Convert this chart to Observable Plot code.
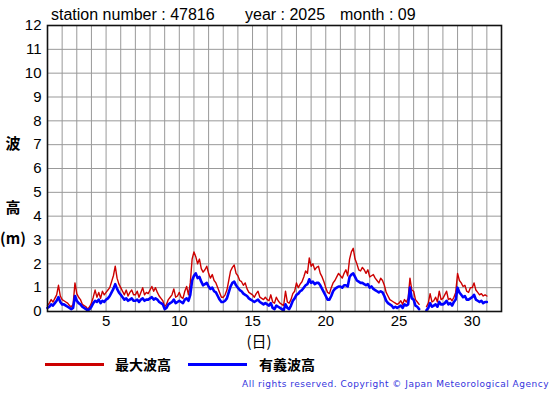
<!DOCTYPE html>
<html><head><meta charset="utf-8">
<script src="https://cdn.jsdelivr.net/npm/d3@7"></script>
<script src="https://cdn.jsdelivr.net/npm/@observablehq/plot@0.6"></script>
<style>
body{margin:0;background:#fff;}
#wrap{position:relative;width:555px;height:395px;overflow:hidden;font-family:"Liberation Sans",Arial,sans-serif;background:#fff;}
#wrap svg{position:absolute;left:0;top:0;}
.abs{position:absolute;white-space:pre;line-height:1;color:#000;}
.jp{font-family:"Noto Sans CJK JP",sans-serif;font-weight:bold;}
</style></head><body><div id="wrap"></div>
<script>
// ---- text ----
const titleParts = ["station number : 47816", "year : 2025", "month : 09"];
const yLabelChars = ["波", "高", "(m)"];
const xLabel = "(日)";
const seriesNames = ["最大波高", "有義波高"];
const seriesColors = ["#cc0000", "#0000ff"];
const copyright = "All rights reserved. Copyright © Japan Meteorological Agency";

// ---- axes ----
const dayTicks = [5, 10, 15, 20, 25, 30];
const waveTicks = [0,1,2,3,4,5,6,7,8,9,10,11,12];
const dayGrid = [2,3,4,5,6,7,8,9,10,11,12,13,14,15,16,17,18,19,20,21,22,23,24,25,26,27,28,29,30,31];
const waveGrid = [1,2,3,4,5,6,7,8,9,10,11];
const stepsPerDay = 8; // 3-hourly readings, starting Sep 1 00h

// ---- data (m), 8 values per day, day 1..30, plus final point ----
const maxWave = [
 0.25,0.35,0.5,0.4,0.55,0.7,1.1,0.65,
 0.5,0.45,0.4,0.35,0.25,0.2,0.3,1.2,
 0.75,0.6,0.5,0.3,0.25,0.2,0.1,0.2,
 0.35,0.6,0.9,0.6,0.8,0.55,0.85,0.7,
 0.8,0.9,1.0,1.25,1.5,1.9,1.4,1.15,
 1.0,0.85,0.7,0.9,0.65,0.8,0.9,0.7,
 0.7,0.85,0.6,0.8,1.0,0.7,0.8,0.75,
 0.9,1.05,0.85,1.0,0.8,0.65,0.55,0.45,
 0.2,0.3,0.5,0.6,0.7,0.95,0.6,0.65,
 0.8,0.6,0.55,0.85,1.05,0.7,1.2,2.2,
 2.5,2.3,2.0,2.2,1.8,1.65,1.75,1.9,
 1.6,1.4,1.55,1.3,1.2,1.0,0.8,0.6,
 0.6,0.7,0.9,1.3,1.7,1.85,1.95,1.6,
 1.5,1.3,1.25,1.1,1.2,0.95,0.8,0.75,
 0.7,0.6,0.75,0.85,0.6,0.55,0.5,0.6,
 0.5,0.45,0.7,0.4,0.35,0.6,0.45,0.35,
 0.3,0.25,0.85,0.4,0.35,0.5,0.75,0.85,
 1.2,1.0,1.15,1.25,1.45,1.7,1.6,2.25,
 1.9,2.0,1.75,1.85,1.9,1.6,1.45,1.25,
 1.0,0.8,0.75,1.0,1.2,1.3,1.45,1.6,
 1.5,1.4,1.6,1.75,1.5,2.2,2.5,2.65,
 2.2,2.0,1.75,1.7,1.85,1.75,1.6,1.75,
 1.45,1.5,1.55,1.4,1.3,1.2,1.4,1.3,
 1.1,0.8,0.65,0.5,0.45,0.4,0.35,0.3,
 0.35,0.45,0.3,0.5,0.4,0.55,1.4,0.9,
 0.85,0.5,0.4,0.3,null,null,null,0.2,
 0.35,0.75,0.4,0.45,0.6,0.4,0.85,0.5,
 0.55,0.7,0.85,0.5,0.55,0.45,0.6,0.8,
 1.6,1.3,1.2,1.05,1.1,0.85,0.8,1.0,
 1.0,1.2,0.9,0.8,0.7,0.75,0.65,0.7,
 0.65
];
const sigWave = [
 0.15,0.2,0.3,0.25,0.35,0.45,0.6,0.4,
 0.3,0.3,0.25,0.2,0.15,0.1,0.15,0.65,
 0.45,0.35,0.3,0.2,0.15,0.1,0.05,0.1,
 0.2,0.35,0.45,0.4,0.5,0.35,0.45,0.4,
 0.5,0.55,0.65,0.8,0.95,1.15,0.95,0.8,
 0.7,0.6,0.5,0.55,0.45,0.5,0.55,0.45,
 0.45,0.5,0.4,0.5,0.55,0.45,0.5,0.5,
 0.55,0.6,0.5,0.55,0.5,0.4,0.35,0.3,
 0.1,0.15,0.3,0.35,0.4,0.5,0.35,0.4,
 0.45,0.4,0.35,0.5,0.55,0.45,0.7,1.3,
 1.5,1.6,1.4,1.45,1.25,1.1,1.15,1.2,
 1.05,0.95,1.0,0.85,0.8,0.65,0.5,0.4,
 0.4,0.45,0.55,0.8,1.05,1.2,1.25,1.1,
 1.0,0.9,0.85,0.75,0.7,0.65,0.55,0.5,
 0.45,0.4,0.45,0.5,0.4,0.35,0.3,0.35,
 0.3,0.25,0.35,0.15,0.1,0.25,0.2,0.15,
 0.1,0.05,0.3,0.15,0.1,0.25,0.45,0.55,
 0.7,0.75,0.85,0.9,1.0,1.1,1.15,1.35,
 1.2,1.25,1.15,1.2,1.2,1.1,0.95,0.8,
 0.65,0.5,0.5,0.65,0.85,0.95,1.0,1.05,
 1.05,1.0,1.1,1.1,1.05,1.45,1.55,1.6,
 1.45,1.3,1.25,1.2,1.2,1.15,1.1,1.15,
 1.0,1.05,0.95,0.9,0.85,0.8,0.85,0.8,
 0.65,0.45,0.35,0.3,0.25,0.15,0.2,0.15,
 0.2,0.25,0.15,0.3,0.25,0.3,1.0,0.55,
 0.5,0.25,0.2,0.1,null,null,null,0.05,
 0.15,0.35,0.2,0.25,0.3,0.2,0.4,0.3,
 0.3,0.35,0.45,0.3,0.35,0.25,0.4,0.5,
 1.0,0.8,0.7,0.6,0.65,0.5,0.5,0.55,
 0.6,0.7,0.5,0.45,0.4,0.45,0.35,0.4,
 0.4
];

const toRows = arr => arr.map((v, i) => ({t: 1 + i / stepsPerDay, v}));
const maxRows = toRows(maxWave);
const sigRows = toRows(sigWave);

const chart = Plot.plot({
  width: 555, height: 395,
  marginTop: 25, marginBottom: 84, marginLeft: 47, marginRight: 54,
  x: {domain: [1, 32]},
  y: {domain: [0, 12]},
  style: {fontFamily: "'Liberation Sans', Arial, sans-serif", fontSize: "15px", color: "#000", background: "transparent", overflow: "visible"},
  marks: [
    Plot.ruleX(dayGrid, {stroke: "#999", strokeWidth: 1}),
    Plot.ruleY(waveGrid, {stroke: "#999", strokeWidth: 1}),
    Plot.lineY(maxRows, {x: "t", y: "v", stroke: seriesColors[0], strokeWidth: 1.4}),
    Plot.lineY(sigRows, {x: "t", y: "v", stroke: seriesColors[1], strokeWidth: 2.6}),
    Plot.frame({stroke: "#111", strokeWidth: 1.6}),
    Plot.axisX({ticks: dayTicks, tickSize: 0, tickPadding: 4, label: null}),
    Plot.axisY({ticks: waveTicks, tickSize: 0, tickPadding: 6, label: null})
  ]
});

const wrap = document.getElementById("wrap");
wrap.appendChild(chart);

function addText(txt, css, cls) {
  const d = document.createElement("div");
  d.className = "abs" + (cls ? " " + cls : "");
  d.textContent = txt;
  Object.assign(d.style, css);
  wrap.appendChild(d);
  return d;
}
// title
const titleX = [51, 245, 340];
titleParts.forEach((t, i) => addText(t, {left: titleX[i] + "px", top: "7px", fontSize: "16px"}));
// y label
const yLabTop = [135, 199, 230];
yLabelChars.forEach((c, i) => addText(c, {left: "0px", width: "26px", textAlign: "center", top: yLabTop[i] + "px", fontSize: "15px"}, "jp"));
// x label
addText(xLabel, {left: "241px", width: "36px", textAlign: "center", top: "333px", fontSize: "15px", fontFamily: "'Noto Sans CJK JP',sans-serif"});
// legend
const legLineX = [45, 188], legTextX = [115, 259];
seriesNames.forEach((n, i) => {
  const l = document.createElement("div");
  Object.assign(l.style, {position: "absolute", left: legLineX[i] + "px", top: "363px", width: "59px", height: "3px", background: seriesColors[i]});
  wrap.appendChild(l);
  addText(n, {left: legTextX[i] + "px", top: "357px", fontSize: "14px"}, "jp");
});
// copyright
addText(copyright, {right: "6px", top: "380px", fontSize: "9px", letterSpacing: "0.5px", color: "#3333dd", fontFamily: "'DejaVu Sans',sans-serif"});
</script>
</body></html>
